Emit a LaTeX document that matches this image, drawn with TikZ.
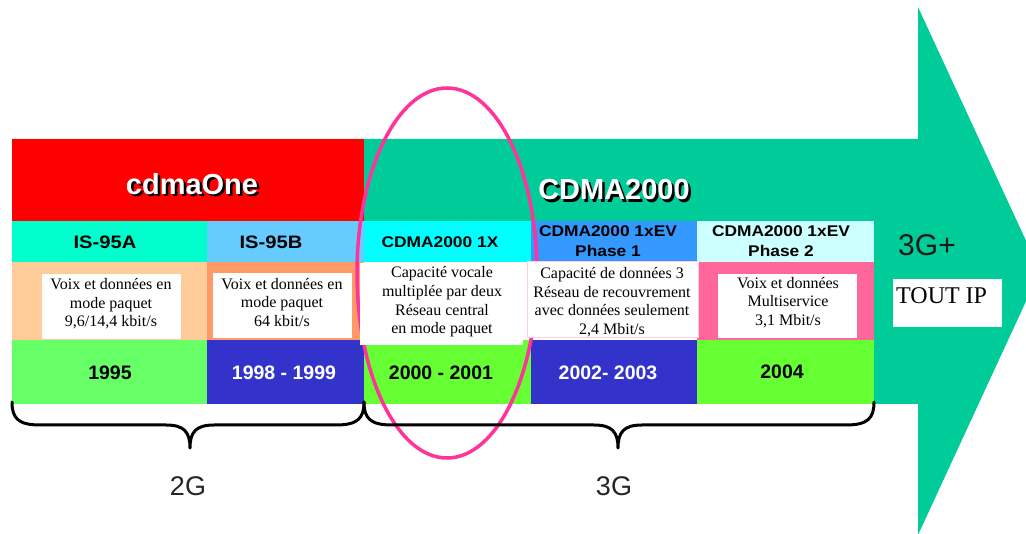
\documentclass[tikz,border=0pt]{standalone}
\usepackage{fontspec}
\setmainfont{Liberation Serif}
\setsansfont{Liberation Sans}
\newfontfamily\cellfont[FakeStretch=1.12]{Liberation Sans}
\definecolor{arrowgreen}{HTML}{00CC99}
\definecolor{hdred}{HTML}{FF0000}
\definecolor{cA}{HTML}{00FFCC}
\definecolor{cB}{HTML}{66CCFF}
\definecolor{cX}{HTML}{00FFFF}
\definecolor{cEa}{HTML}{3399FF}
\definecolor{cEb}{HTML}{CCFFFF}
\definecolor{dA}{HTML}{FFCC99}
\definecolor{dB}{HTML}{FF9966}
\definecolor{dE}{HTML}{FF6699}
\definecolor{yG}{HTML}{66FF66}
\definecolor{yL}{HTML}{66FF33}
\definecolor{yB}{HTML}{3333CC}
\definecolor{ringpink}{HTML}{FF3399}
\definecolor{lightpink}{HTML}{FFCCEE}
\newcommand{\shadowtext}[1]{\rlap{\kern2.5pt\raisebox{-2.5pt}{\color{black}#1}}{\color{white}#1}}
\begin{document}
\begin{tikzpicture}[x=1pt,y=-1pt,
  cell/.style={draw=none,inner sep=0pt,minimum width=#1},
  row2/.style={minimum height=41},
  row3/.style={minimum height=78},
  row4/.style={minimum height=64},
  wbox/.style={fill=white,draw=none,inner sep=0pt},
  desc/.style={align=center,inner sep=0pt,font=\fontsize{16}{18.6}\selectfont},
  lbl/.style={align=center,inner sep=0pt,font=\cellfont\bfseries\fontsize{15.5}{20}\selectfont},
  yr/.style={inner sep=0pt,font=\sffamily\bfseries\fontsize{19.5}{22}\selectfont},
  hdr/.style={inner sep=0pt,font=\sffamily\bfseries\fontsize{29}{32}\selectfont},
  gen/.style={inner sep=0pt,text=black!85,font=\sffamily\fontsize{27}{30}\selectfont},
  bracestroke/.style={line width=3pt,line cap=round,line join=round,black}
]
\path[use as bounding box,clip] (0,0) rectangle (1026,534);
\fill[white] (0,0) rectangle (1026,534);

% big arrow
\fill[arrowgreen] (12,139) -- (918,139) -- (918,7) -- (1040,271) -- (918,535) -- (918,404) -- (12,404) -- cycle;

% header
\node[cell=352,minimum height=82,fill=hdred] (hone) at (188,180) {};

% row 2
\node[cell=195,row2,fill=cA] (c1) at (109.5,241.5) {};
\node[cell=157,row2,fill=cB] (c2) at (285.5,241.5) {};
\node[cell=167,row2,fill=cX] (c3) at (447.5,241.5) {};
\node[cell=166,row2,fill=cEa] (c4) at (614,241.5) {};
\node[cell=177,row2,fill=cEb] (c5) at (785.5,241.5) {};
% row 3
\node[cell=195,row3,fill=dA] (d1) at (109.5,301) {};
\node[cell=157,row3,fill=dB] (d2) at (285.5,301) {};
\node[cell=167,row3,fill=white] (d3) at (447.5,301) {};
\node[cell=166,row3,fill=white] (d4) at (614,301) {};
\node[cell=177,row3,fill=dE] (d5) at (785.5,301) {};
% row 4
\node[cell=195,row4,fill=yG] (y1) at (109.5,372) {};
\node[cell=157,row4,fill=yB] (y2) at (285.5,372) {};
\node[cell=167,row4,fill=yL] (y3) at (447.5,372) {};
\node[cell=166,row4,fill=yB] (y4) at (614,372) {};
\node[cell=177,row4,fill=yL] (y5) at (785.5,372) {};

% ring
\draw[ringpink,line width=3.5pt] (447,273) ellipse [x radius=90, y radius=185];

% white boxes
\node[wbox,minimum width=139,minimum height=65] (b1) at (111.5,306.5) {};
\node[wbox,minimum width=139,minimum height=65] (b2) at (282.5,305.5) {};
\node[wbox,minimum width=163,minimum height=82] (b3) at (441.5,304) {};
\node[wbox,draw=lightpink,line width=1pt,minimum width=171,minimum height=76] (b4) at (612.5,300) {};
\node[wbox,minimum width=139,minimum height=64] (b5) at (787.5,306) {};
\node[wbox,minimum width=109,minimum height=48] (b6) at (947.5,303) {};

% header texts
\node[hdr] (honeT) at (192,185) {\shadowtext{cdmaOne}};
\node[hdr] (htwoT) at (614,191) {\shadowtext{CDMA2000}};

% row 2 labels
\node[lbl,font=\cellfont\bfseries\fontsize{18}{20}\selectfont] (t1) at (105,242) {IS-95A};
\node[lbl,font=\cellfont\bfseries\fontsize{18}{20}\selectfont] (t2) at (271,242) {IS-95B};
\node[lbl] (t3) at (440,242) {CDMA2000 1X};
\node[lbl] (t4) at (608,241) {CDMA2000 1xEV\\Phase 1};
\node[lbl] (t5) at (781,241) {CDMA2000 1xEV\\Phase 2};

% descriptions
\node[desc] (e1) at (111,304) {Voix et données en\\mode paquet\\9,6/14,4 kbit/s};
\node[desc] (e2) at (282,302.5) {Voix et données en\\mode paquet\\64 kbit/s};
\node[desc] (e3) at (442,302) {Capacité vocale\\multiplée par deux\\Réseau central\\en mode paquet};
\node[desc] (e4) at (612,302) {Capacité de données 3\\Réseau de recouvrement\\avec données seulement\\2,4 Mbit/s};
\node[desc] (e5) at (788,302.5) {Voix et données\\Multiservice\\3,1 Mbit/s};

% years
\node[yr] (n1) at (110,373) {1995};
\node[yr,text=white] (n2) at (284,373) {1998 - 1999};
\node[yr] (n3) at (441,373) {2000 - 2001};
\node[yr,text=white] (n4) at (608,373) {2002- 2003};
\node[yr] (n5) at (782,372) {2004};

% 3G+ and TOUT IP
\node[inner sep=0pt,text=black!90,font=\sffamily\fontsize{30}{32}\selectfont] (tgp) at (927,245) {3G+};
\node[anchor=base west,inner sep=0pt,font=\fontsize{24}{26}\selectfont] (tip) at (896,304) {TOUT IP};

% braces
\draw[bracestroke] (12,402) .. controls (12,418) and (18,425) .. (40,425) -- (166,425)
  .. controls (184,425) and (190,432) .. (190,448)
  .. controls (190,432) and (196,425) .. (214,425) -- (336,425)
  .. controls (358,425) and (364,418) .. (364,402);
\draw[bracestroke] (364,402) .. controls (364,418) and (370,425) .. (392,425) -- (594,425)
  .. controls (612,425) and (618,432) .. (618,448)
  .. controls (618,432) and (624,425) .. (642,425) -- (846,425)
  .. controls (868,425) and (874,418) .. (874,402);

\node[gen] (g2) at (188,486) {2G};
\node[gen] (g3) at (614,486) {3G};
\end{tikzpicture}
\end{document}
